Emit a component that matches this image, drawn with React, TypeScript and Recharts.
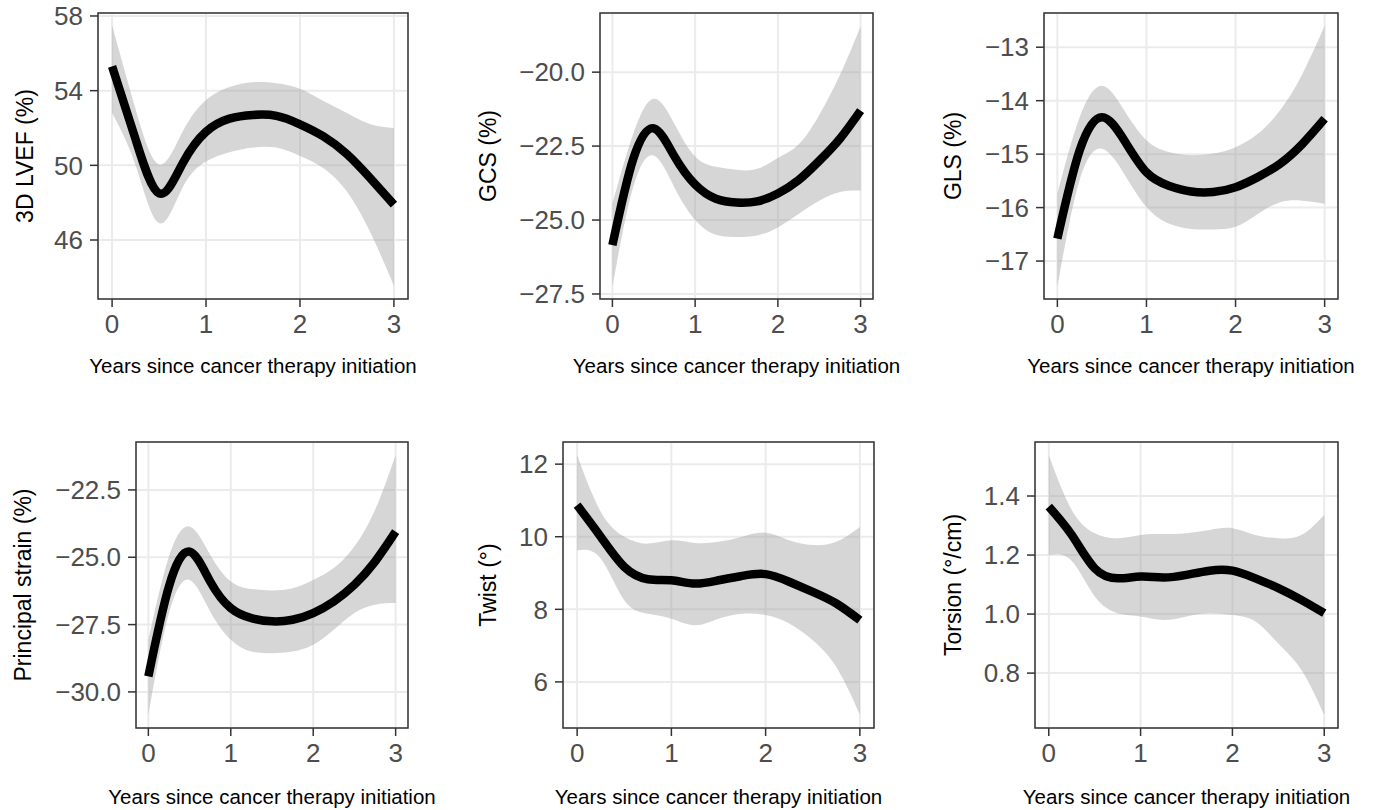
import {
  ComposedChart,
  Area,
  Line,
  XAxis,
  YAxis,
  CartesianGrid,
  ReferenceArea,
} from 'recharts'

const YEARS = [0, 0.25, 0.5, 0.75, 1, 1.25, 1.5, 1.75, 2, 2.25, 2.5, 2.75, 3]
const X_TICKS = [0, 1, 2, 3]
const X_TITLE = 'Years since cancer therapy initiation'

// 3D LVEF (%)
const lvefFit = [55.3, 51.4, 48.5, 50.1, 51.8, 52.5, 52.7, 52.65, 52.2, 51.55, 50.6, 49.3, 47.9]
const lvefLow = [52.8, 50.0, 46.9, 48.8, 50.2, 50.7, 50.95, 50.95, 50.5, 49.85, 48.6, 46.4, 43.55]
const lvefHigh = [57.5, 53.0, 50.05, 51.8, 53.5, 54.2, 54.45, 54.4, 54.1, 53.45, 52.8, 52.2, 52.0]
const lvefTicks = [46, 50, 54, 58]

// GCS (%)
const gcsFit = [-25.85, -22.95, -21.9, -22.85, -23.8, -24.28, -24.41, -24.37, -24.1, -23.65, -23.0, -22.25, -21.3]
const gcsLow = [-27.25, -23.9, -22.82, -23.9, -25.0, -25.5, -25.57, -25.52, -25.25, -24.8, -24.35, -24.05, -24.0]
const gcsHigh = [-24.45, -22.1, -20.9, -21.75, -22.85, -23.2, -23.3, -23.27, -22.9, -22.45, -21.45, -20.1, -18.45]
const gcsTicks = [-27.5, -25, -22.5, -20]

// GLS (%)
const glsFit = [-16.58, -14.93, -14.31, -14.74, -15.34, -15.59, -15.7, -15.71, -15.62, -15.43, -15.18, -14.81, -14.34]
const glsLow = [-17.47, -15.49, -14.9, -15.37, -15.99, -16.3, -16.4, -16.41, -16.36, -16.12, -15.9, -15.87, -15.93]
const glsHigh = [-15.74, -14.31, -13.72, -14.18, -14.74, -14.96, -15.02, -14.99, -14.87, -14.62, -14.18, -13.5, -12.6]
const glsTicks = [-17, -16, -15, -14, -13]

// Principal strain (%)
const psFit = [-29.42, -26.08, -24.79, -25.9, -26.89, -27.26, -27.38, -27.32, -27.07, -26.64, -26.02, -25.16, -24.05]
const psLow = [-30.86, -27.07, -25.84, -27.01, -28.06, -28.5, -28.56, -28.5, -28.25, -27.69, -27.07, -26.76, -26.7]
const psHigh = [-28.06, -24.97, -23.86, -24.91, -25.9, -26.18, -26.23, -26.15, -25.84, -25.4, -24.6, -23.24, -21.2]
const psTicks = [-30, -27.5, -25, -22.5]

// Twist (°)
const twistFit = [10.87, 10.0, 9.17, 8.83, 8.8, 8.71, 8.8, 8.92, 8.97, 8.76, 8.48, 8.16, 7.7]
const twistLow = [9.63, 9.4, 8.25, 7.88, 7.74, 7.56, 7.74, 7.88, 7.84, 7.61, 7.15, 6.41, 5.1]
const twistHigh = [12.25, 10.69, 10.0, 9.81, 9.9, 9.83, 9.86, 10.0, 10.11, 9.9, 9.77, 9.86, 10.27]
const twistTicks = [6, 8, 10, 12]

// Torsion (°/cm)
const torsionFit = [1.364, 1.268, 1.155, 1.121, 1.127, 1.124, 1.133, 1.147, 1.147, 1.121, 1.088, 1.048, 1.003]
const torsionLow = [1.2, 1.18, 1.06, 1.003, 0.992, 0.98, 0.992, 1.003, 0.997, 0.975, 0.9, 0.811, 0.658]
const torsionHigh = [1.539, 1.353, 1.274, 1.257, 1.268, 1.271, 1.274, 1.285, 1.291, 1.268, 1.257, 1.268, 1.336]
const torsionTicks = [0.8, 1.0, 1.2, 1.4]

const FONT = '"Liberation Sans", Arial, Helvetica, sans-serif'

type PanelProps = {
  title: string
  fit: number[]
  low: number[]
  high: number[]
  ticks: number[]
  digits: number
  domain: [number, number]
  // chart placement
  cx: number
  cy: number
  cw: number
  ch: number
  // plot box
  l: number
  t: number
  r: number
  b: number
  titleX: number
  xTitleOffset: number
}

function Panel(p: PanelProps) {
  const data = YEARS.map((x, i) => ({ x, fit: p.fit[i], band: [p.low[i], p.high[i]] }))
  const fmt = (v: number) => v.toFixed(p.digits).replace('-', '\u2212')
  return (
    <div style={{ position: 'absolute', left: p.cx, top: p.cy }}>
      <ComposedChart
        width={p.cw}
        height={p.ch}
        data={data}
        margin={{ top: p.t - p.cy, right: p.cw - (p.r - p.cx), left: 0, bottom: 0 }}
      >
        <CartesianGrid stroke="#ebebeb" strokeWidth={2} />
        <XAxis
          type="number"
          dataKey="x"
          domain={[-0.15, 3.15]}
          ticks={X_TICKS}
          allowDataOverflow
          height={p.ch - (p.b - p.cy)}
          axisLine={false}
          tickSize={8}
          tickMargin={8}
          tickLine={{ stroke: '#333', strokeWidth: 1.5 }}
          tick={{ fill: '#4d4d4d', fontSize: 26 }}
          label={{ value: X_TITLE, position: 'insideBottom', offset: p.xTitleOffset, fill: '#000', fontSize: 20.5 }}
        />
        <YAxis
          type="number"
          domain={p.domain}
          ticks={p.ticks}
          allowDataOverflow
          width={p.l - p.cx}
          axisLine={false}
          tickSize={8}
          tickMargin={7}
          tickLine={{ stroke: '#333', strokeWidth: 1.5 }}
          tick={{ fill: '#4d4d4d', fontSize: 26 }}
          tickFormatter={fmt}
          label={{
            value: p.title,
            angle: -90,
            position: 'insideLeft',
            offset: p.titleX - p.cx,
            fill: '#000',
            fontSize: 23,
            style: { textAnchor: 'middle' },
          }}
        />
        <Area
          dataKey="band"
          type="natural"
          stroke="none"
          fill="#999999"
          fillOpacity={0.4}
          isAnimationActive={false}
        />
        <Line
          dataKey="fit"
          type="natural"
          stroke="#000"
          strokeWidth={8.5}
          dot={false}
          activeDot={false}
          isAnimationActive={false}
        />
        <ReferenceArea
          x1={-0.15}
          x2={3.15}
          y1={p.domain[0]}
          y2={p.domain[1]}
          fill="none"
          stroke="#333"
          strokeWidth={1.5}
        />
      </ComposedChart>
    </div>
  )
}

export default function App() {
  return (
    <div
      style={{
        position: 'absolute',
        left: 0,
        top: 0,
        width: 1374,
        height: 810,
        background: '#fff',
        fontFamily: FONT,
        overflow: 'hidden',
      }}
    >
      <Panel title="3D LVEF (%)" fit={lvefFit} low={lvefLow} high={lvefHigh} ticks={lvefTicks} digits={0}
        domain={[42.84, 58.16]} cx={0} cy={0} cw={460} ch={400} l={98} t={13} r={408} b={299} titleX={25} xTitleOffset={27} />
      <Panel title="GCS (%)" fit={gcsFit} low={gcsLow} high={gcsHigh} ticks={gcsTicks} digits={1}
        domain={[-27.67, -18.0]} cx={460} cy={0} cw={454} ch={400} l={600} t={13} r={873} b={299} titleX={488} xTitleOffset={27} />
      <Panel title="GLS (%)" fit={glsFit} low={glsLow} high={glsHigh} ticks={glsTicks} digits={0}
        domain={[-17.71, -12.36]} cx={914} cy={0} cw={460} ch={400} l={1044} t={13} r={1338} b={299} titleX={953} xTitleOffset={27} />
      <Panel title="Principal strain (%)" fit={psFit} low={psLow} high={psHigh} ticks={psTicks} digits={1}
        domain={[-31.34, -20.72]} cx={0} cy={405} cw={460} ch={405} l={136} t={442} r={408} b={728} titleX={23} xTitleOffset={6} />
      <Panel title="Twist (°)" fit={twistFit} low={twistLow} high={twistHigh} ticks={twistTicks} digits={0}
        domain={[4.73, 12.61]} cx={460} cy={405} cw={454} ch={405} l={563} t={442} r={874} b={728} titleX={488} xTitleOffset={6} />
      <Panel title="Torsion (°/cm)" fit={torsionFit} low={torsionLow} high={torsionHigh} ticks={torsionTicks} digits={1}
        domain={[0.614, 1.583]} cx={914} cy={405} cw={460} ch={405} l={1035} t={442} r={1338} b={728} titleX={953} xTitleOffset={6} />
    </div>
  )
}
